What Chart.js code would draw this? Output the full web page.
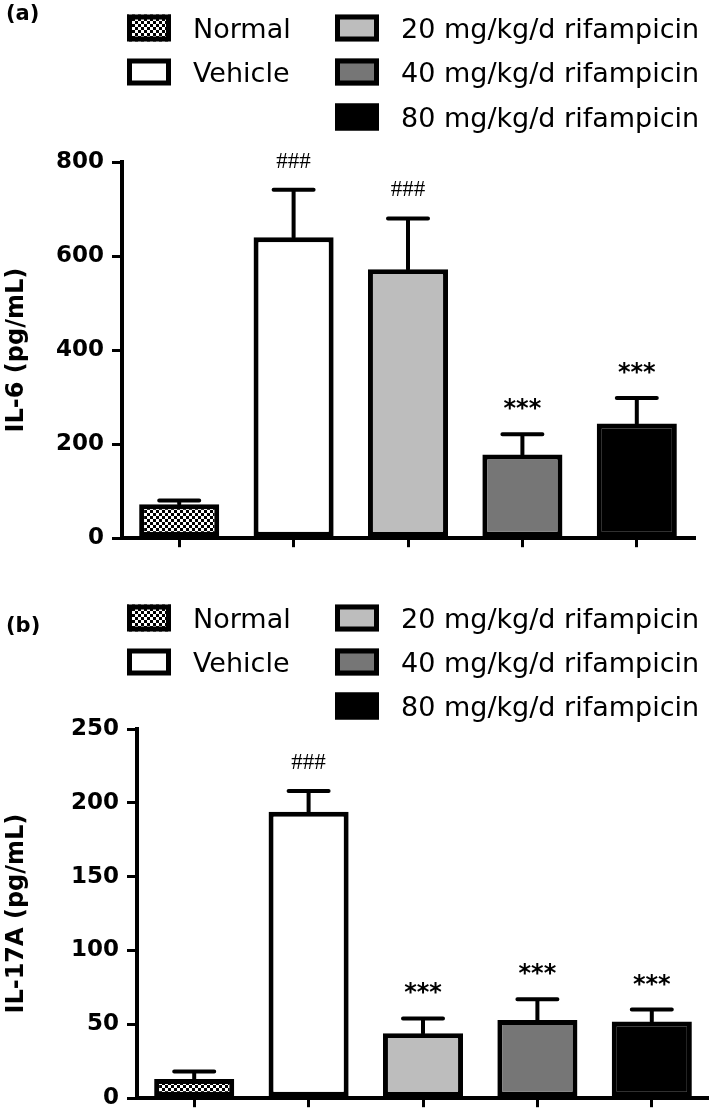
<!DOCTYPE html>
<html>
<head>
<meta charset="utf-8">
<script src="https://cdn.jsdelivr.net/npm/chart.js@4.4.1/dist/chart.umd.min.js"></script>
<style>
  html, body { margin: 0; padding: 0; background: #fff; }
  .panel { position: relative; width: 709px; height: 560px; }
</style>
</head>
<body>
<div class="panel"><canvas id="chartA" width="709" height="560"></canvas></div>
<div class="panel"><canvas id="chartB" width="709" height="560"></canvas></div>
<script>
const groups = ['Normal', 'Vehicle', '20 mg/kg/d rifampicin', '40 mg/kg/d rifampicin', '80 mg/kg/d rifampicin'];
const groupFills = ['checker', '#ffffff', '#bdbdbd', '#767676', '#000000'];

const il6Means = [72, 640, 572, 178, 244];
const il6Sem = [8, 101, 108, 43, 54];
const il6Marks = ['', '###', '###', '***', '***'];
const il6Ticks = [0, 200, 400, 600, 800];

const il17Means = [13, 194, 44, 53, 52];
const il17Sem = [5, 14, 10, 14, 8];
const il17Marks = ['', '###', '***', '***', '***'];
const il17Ticks = [0, 50, 100, 150, 200, 250];

function checker(ctx) {
    const c = document.createElement('canvas');
    c.width = 6; c.height = 6;
    const g = c.getContext('2d');
    g.fillStyle = '#fff'; g.fillRect(0, 0, 6, 6);
    g.fillStyle = '#000'; g.fillRect(0, 0, 3, 3); g.fillRect(3, 3, 3, 3);
    return ctx.createPattern(c, 'repeat');
}

function fillsFor(ctx) {
    const pat = checker(ctx);
    return groupFills.map(f => f === 'checker' ? pat : f);
}

// error bars + significance marks above each bar
function errorBars(means, sem, marks) {
    return {
        id: 'errorBars',
        afterDatasetsDraw(chart) {
            const { ctx } = chart;
            const y = chart.scales.y;
            const meta = chart.getDatasetMeta(0);
            ctx.save();
            ctx.strokeStyle = '#000';
            ctx.lineWidth = 4;
            ctx.lineCap = 'round';
            meta.data.forEach((bar, i) => {
                const top = y.getPixelForValue(means[i] + sem[i]);
                ctx.beginPath();
                ctx.moveTo(bar.x, bar.y);
                ctx.lineTo(bar.x, top);
                ctx.moveTo(bar.x - 20, top);
                ctx.lineTo(bar.x + 20, top);
                ctx.stroke();
                const mark = marks[i];
                if (!mark) return;
                ctx.fillStyle = '#000';
                ctx.textAlign = 'center';
                ctx.textBaseline = 'alphabetic';
                const cy = top - 30;
                if (mark[0] === '#') {
                    ctx.font = '23px "Liberation Serif"';
                    ctx.fillText(mark, bar.x, cy + 8);
                } else {
                    ctx.font = 'bold 24px "DejaVu Sans"';
                    ctx.fillText(mark, bar.x, cy + 12);
                }
            });
            ctx.restore();
        }
    };
}

function legendBlock(panelLabel, labelY, rows) {
    return {
        id: 'legendBlock',
        afterDraw(chart) {
            const { ctx } = chart;
            const fills = chart.data.datasets[0].backgroundColor;
            ctx.save();
            ctx.fillStyle = '#000';
            ctx.font = 'bold 21px "DejaVu Sans"';
            ctx.textAlign = 'left';
            ctx.textBaseline = 'alphabetic';
            ctx.fillText(panelLabel, 6, labelY + 8);
            const cols = [127, 335];
            groups.forEach((g, i) => {
                const col = i < 2 ? 0 : 1;
                const row = i < 2 ? i : i - 2;
                const x = cols[col];
                const cy = rows[row];
                ctx.fillStyle = fills[i];
                ctx.fillRect(x, cy - 13.5, 44, 27);
                ctx.strokeStyle = '#000';
                ctx.lineWidth = 5;
                ctx.strokeRect(x + 2.5, cy - 11, 39, 22);
                ctx.fillStyle = '#000';
                ctx.font = '27px "DejaVu Sans"';
                ctx.fillText(g, x + 66, cy + 10);
            });
            ctx.restore();
        }
    };
}

function makeChart(id, cfg) {
    const ctx = document.getElementById(id).getContext('2d');
    return new Chart(ctx, {
        type: 'bar',
        data: {
            labels: groups,
            datasets: [{
                data: cfg.means,
                backgroundColor: fillsFor(ctx),
                borderColor: '#000',
                borderWidth: 5,
                borderSkipped: false,
                barPercentage: 0.7,
                categoryPercentage: 1
            }]
        },
        options: {
            responsive: false,
            animation: false,
            events: [],
            layout: { padding: cfg.padding },
            plugins: { legend: { display: false }, tooltip: { enabled: false } },
            scales: {
                x: {
                    afterFit: s => { s.height = 12; },
                    grid: { display: true, offset: false, drawOnChartArea: false, drawTicks: true, tickLength: 9, color: '#000', lineWidth: 3 },
                    border: { display: true, color: '#000', width: 4 },
                    ticks: { display: false }
                },
                y: {
                    min: cfg.ticks[0],
                    max: cfg.ticks[cfg.ticks.length - 1],
                    afterBuildTicks: s => { s.ticks = cfg.ticks.map(v => ({ value: v })); },
                    afterFit: s => { s.width = cfg.axisX; },
                    grid: { display: true, drawOnChartArea: false, drawTicks: true, tickLength: 10, color: '#000', lineWidth: 3 },
                    border: { display: true, color: '#000', width: 4 },
                    ticks: { color: '#000', padding: 8, font: { family: 'DejaVu Sans', size: 23, weight: 'bold' } },
                    title: { display: true, text: cfg.title, color: '#000', padding: { top: 2, bottom: 0 }, font: { family: 'DejaVu Sans', size: 24, weight: 'bold' } }
                }
            }
        },
        plugins: [errorBars(cfg.means, cfg.sem, cfg.marks), legendBlock(cfg.label, cfg.labelY, cfg.rows)]
    });
}

makeChart('chartA', {
    means: il6Means, sem: il6Sem, marks: il6Marks, ticks: il6Ticks,
    title: 'IL-6 (pg/mL)', label: '(a)', labelY: 12, rows: [28, 72, 117],
    axisX: 122, padding: { top: 162, left: 0, right: 15, bottom: 5 }
});

makeChart('chartB', {
    means: il17Means, sem: il17Sem, marks: il17Marks, ticks: il17Ticks,
    title: 'IL-17A (pg/mL)', label: '(b)', labelY: 64, rows: [58, 102, 146],
    axisX: 137, padding: { top: 169, left: 0, right: 0, bottom: 0 }
});
</script>
</body>
</html>
